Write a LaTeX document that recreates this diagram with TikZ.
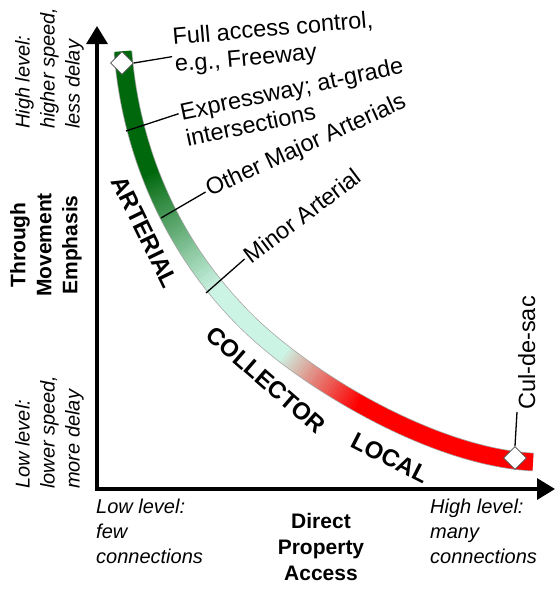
\documentclass[tikz,border=0pt]{standalone}
\usepackage{fontspec}
\setmainfont{Liberation Sans}
\usetikzlibrary{arrows.meta,shapes.geometric,calc}

\definecolor{roadgreen}{RGB}{0,104,12}
\definecolor{mint}{RGB}{204,244,228}
\definecolor{roadred}{RGB}{255,0,0}

\begin{document}
\begin{tikzpicture}[x=1pt,y=-1pt,
  axis/.style={line width=3.3pt,{Triangle[length=18pt,width=21pt]}-{Triangle[length=18pt,width=21pt]}},
  callout/.style={line width=1.3pt},
  marker/.style={diamond,draw=black!70,fill=white,line width=0.8pt,minimum size=23pt,inner sep=0pt},
  calltxt/.style={font=\fontsize{23.5}{27}\selectfont,align=left,inner xsep=2pt,inner ysep=1pt},
  level/.style={font=\fontsize{20}{25}\selectfont\itshape,align=left,inner sep=0pt},
  axlabel/.style={font=\fontsize{21}{26}\selectfont\bfseries,align=center,inner sep=0pt},
  roadclass/.style={font=\fontsize{24}{24}\selectfont\bfseries,inner sep=0pt},
  piece/.style={line width=17pt,shorten <=-0.8pt}]
  \useasboundingbox (0,0) rectangle (556,590);

  % axes
  \coordinate (o) at (97,489);
  \coordinate (ytip) at (97,26);
  \coordinate (xtip) at (555,489);
  \draw[axis] (ytip) -- (o) -- (xtip);

  % the band: outline, then short coloured pieces
  \draw[gray!70,line width=18.6pt] (123,52) .. controls (129,132) and (160,235) .. (245,320)
    .. controls (305,380) and (433,457) .. (533,462);
  \foreach \i [evaluate=\i as \t using \i/100] in {0,...,100} {
    \path (123,52) .. controls (129,132) and (160,235) .. (245,320) coordinate[pos=\t] (a\i);
    \path (245,320) .. controls (305,380) and (433,457) .. (533,462) coordinate[pos=\t] (b\i);
  }
  \foreach \i [evaluate=\i as \j using int(\i+1)] in {0,...,99} {
    \pgfmathtruncatemacro\mixg{max(0,min(100,(88-\i)*100/42))}
    \pgfmathtruncatemacro\mixr{max(0,min(100,(45-\i)*100/27))}
    \draw[piece,roadgreen!\mixg!mint] (a\i) -- (a\j);
    \draw[piece,mint!\mixr!roadred] (b\i) -- (b\j);
  }

  \node[roadclass,rotate=-64] (art) at (145,232) {ARTERIAL};
  \node[roadclass,rotate=-41] (col) at (266,380) {COLLECTOR};
  \node[roadclass,rotate=-27] (loc) at (390,458) {LOCAL};

  % callouts
  \coordinate (pexp) at (126,131);
  \coordinate (poth) at (161,218);
  \coordinate (pmin) at (206,293);
  \node[calltxt,rotate=5,anchor=north west] (fulltxt) at (169.5,27) {Full access control,\\e.g., Freeway};
  \node[calltxt,rotate=12,anchor=north west] (exptxt) at (176.3,103) {Expressway; at-grade\\intersections};
  \node[calltxt,rotate=24.5,anchor=west] (othtxt) at (205.6,192) {Other Major Arterials};
  \node[calltxt,rotate=37,anchor=west] (mintxt) at (244.6,259) {Minor Arterial};
  \node[calltxt,rotate=90,anchor=north west] (cultxt) at (517,412) {Cul-de-sac};

  \node[marker] (fwy) at (122,63) {};
  \node[marker] (cds) at (515,458) {};
  \draw[callout] (fwy.east) -- ($(fulltxt.north west)!0.58!(fulltxt.south west)$);
  \draw[callout] (pexp) -- ($(exptxt.north west)!0.235!(exptxt.south west)$);
  \draw[callout] (poth) -- (othtxt.west);
  \draw[callout] (pmin) -- (mintxt.west);
  \draw[callout] (cds.north) -- (cultxt.north west);

  % axis texts
  \node[level,rotate=90,anchor=north west] (yhigh) at (15,129) {High level:\\higher speed,\\less delay};
  \node[level,rotate=90,anchor=north west] (ylow) at (15,489) {Low level:\\lower speed,\\more delay};
  \node[axlabel,rotate=90] (ylab) at (46,245) {Through\\Movement\\Emphasis};
  \node[level,anchor=north west] (xlow) at (96,499) {Low level:\\few\\connections};
  \node[level,anchor=north west] (xhigh) at (430,499) {High level:\\many\\connections};
  \node[axlabel] (xlab) at (321,547) {Direct\\Property\\Access};
\end{tikzpicture}
\end{document}
